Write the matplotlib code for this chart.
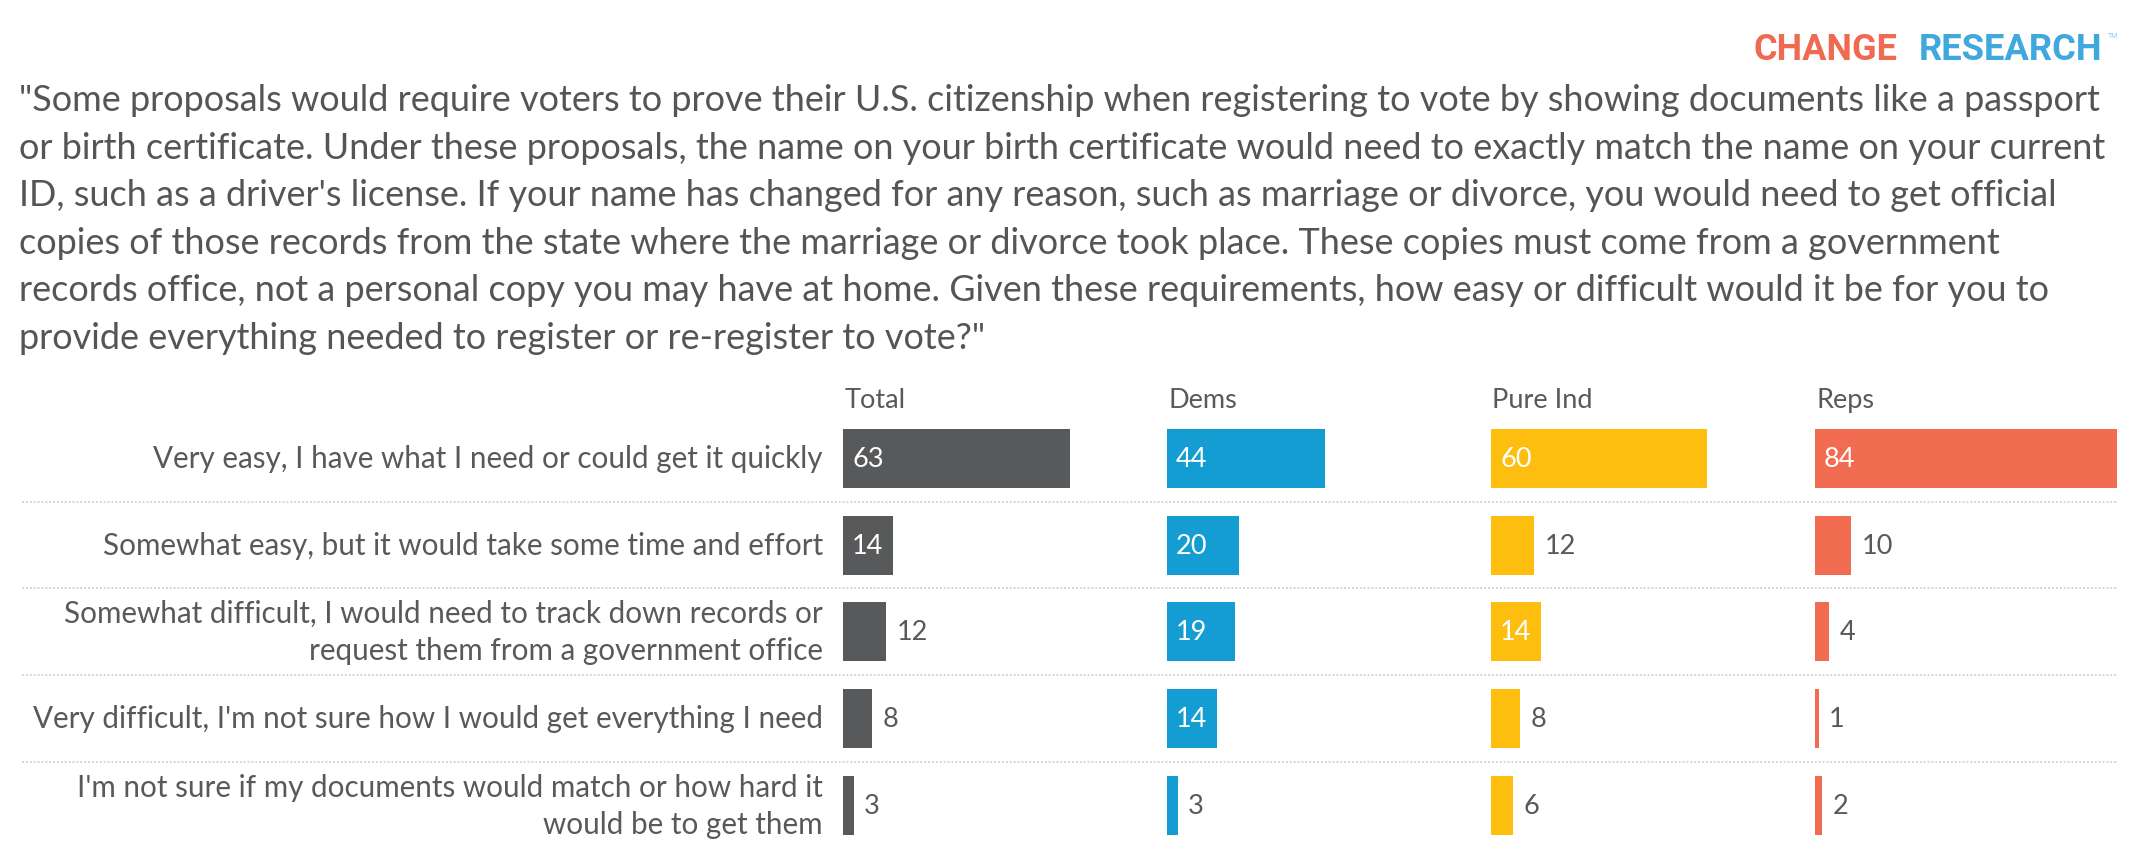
import matplotlib
matplotlib.use('Agg')
import matplotlib.pyplot as plt

# Survey question and answer options
question_lines = [
    '"Some proposals would require voters to prove their U.S. citizenship when registering to vote by showing documents like a passport',
    'or birth certificate. Under these proposals, the name on your birth certificate would need to exactly match the name on your current',
    "ID, such as a driver's license. If your name has changed for any reason, such as marriage or divorce, you would need to get official",
    'copies of those records from the state where the marriage or divorce took place. These copies must come from a government',
    'records office, not a personal copy you may have at home. Given these requirements, how easy or difficult would it be for you to',
    'provide everything needed to register or re-register to vote?"',
]
categories = [
    'Very easy, I have what I need or could get it quickly',
    'Somewhat easy, but it would take some time and effort',
    'Somewhat difficult, I would need to track down records or\nrequest them from a government office',
    "Very difficult, I'm not sure how I would get everything I need",
    "I'm not sure if my documents would match or how hard it\nwould be to get them",
]
groups = ['Total', 'Dems', 'Pure Ind', 'Reps']

# Percentages per group
total = [63, 14, 12, 8, 3]
dems = [44, 20, 19, 14, 3]
pure_ind = [60, 12, 14, 8, 6]
reps = [84, 10, 4, 1, 2]

series = [total, dems, pure_ind, reps]
colors = ['#58595b', '#139dd3', '#fdbe10', '#f26c51']
text_color = '#58595b'

W, H = 2140, 862
fig = plt.figure(figsize=(W / 100, H / 100), dpi=100)
fig.patch.set_facecolor('white')
renderer = fig.canvas.get_renderer()

plt.rcParams['font.family'] = ['Lato', 'DejaVu Sans']


def fx(px):
    return px / W


def fy(py):
    return 1 - py / H


def fit_width(t, target_px):
    w = t.get_window_extent(renderer).width
    t.set_fontsize(t.get_fontsize() * target_px / w)


# Logo
logo_a = fig.text(fx(1897), fy(60), 'CHANGE', ha='right', va='baseline',
                  family='Roboto', weight='bold', fontsize=27, color='#ef6a50')
logo_b = fig.text(fx(2102), fy(60), 'RESEARCH', ha='right', va='baseline',
                  family='Roboto', weight='bold', fontsize=27, color='#3fa8dc')
fit_width(logo_a, 144)
fit_width(logo_b, 184)
fig.text(fx(2108), fy(38), 'TM', ha='left', va='baseline', family='Roboto',
         fontsize=5, color='#9ccbe6')

# Question text
title = fig.text(fx(19), fy(84), '\n'.join(question_lines), ha='left', va='top',
                 fontsize=24, color='#555555', linespacing=1.54)
fit_width(title, 2083)

# Bar panels
px_per_unit = 3.6
panel_w = 324
row_top, row_bottom = 416, 849.5
n = len(categories)
axes = []
for i, (name, vals, col) in enumerate(zip(groups, series, colors)):
    left = 843 + panel_w * i
    ax = fig.add_axes([fx(left), fy(row_bottom), panel_w / W, (row_bottom - row_top) / H])
    ax.set_xlim(0, panel_w / px_per_unit)
    ax.set_ylim(n - 0.5, -0.5)
    ax.barh(range(n), vals, height=0.68, color=col)
    for k, v in enumerate(vals):
        if v >= 13:
            ax.annotate(str(v), xy=(0, k), xytext=(6.5, 0), textcoords='offset points',
                        ha='left', va='center', fontsize=19.5, color='white')
        else:
            ax.annotate(str(v), xy=(v, k), xytext=(7.5, 0), textcoords='offset points',
                        ha='left', va='center', fontsize=19.5, color=text_color)
    ax.annotate(name, xy=(0, 1), xycoords='axes fraction', xytext=(1, 6),
                textcoords='offset points', ha='left', va='baseline',
                fontsize=19.5, color=text_color)
    ax.axis('off')
    axes.append(ax)

ax0 = axes[0]
# Dotted dividers between rows
for k in range(n - 1):
    ax0.axhline(k + 0.5, xmin=(22 - 843) / panel_w, xmax=(2118 - 843) / panel_w,
                color='#d4d4d4', linewidth=1.4, dashes=(1, 1), clip_on=False)

# Row labels
labels = []
for k, cat in enumerate(categories):
    t = ax0.annotate(cat, xy=(0, k), xycoords=('axes fraction', 'data'),
                     xytext=(-14.5, 0), textcoords='offset points', ha='right',
                     va='center', fontsize=19.5, color=text_color, linespacing=1.4)
    labels.append(t)
w0 = labels[0].get_window_extent(renderer).width
size = labels[0].get_fontsize() * 670 / w0
for t in labels:
    t.set_fontsize(size)

fig.savefig('out.png', dpi=100)
